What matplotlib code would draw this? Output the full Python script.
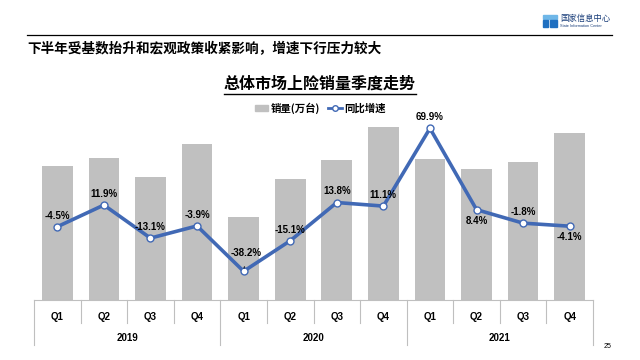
import matplotlib
matplotlib.use("Agg")
import matplotlib.pyplot as plt
from matplotlib.patches import Patch, Rectangle
from matplotlib.lines import Line2D
from matplotlib.transforms import blended_transform_factory

plt.rcParams['font.family'] = ['Liberation Sans', 'Noto Sans CJK SC', 'DejaVu Sans']
CJK = ['Noto Sans CJK SC', 'DejaVu Sans']

quarters = ["Q1", "Q2", "Q3", "Q4"] * 3
years = ["2019", "2020", "2021"]
sales = [517, 548, 475, 602, 321, 466, 539, 667, 544, 505, 531, 642]   # 万台
growth = [-4.5, 11.9, -13.1, -3.9, -38.2, -15.1, 13.8, 11.1, 69.9, 8.4, -1.8, -4.1]
label_pos = ["up", "up", "up", "up", "up2", "up", "up", "up", "up", "down", "up", "down"]

bar_c = "#C0C0C0"
line_c = "#4169B5"

fig = plt.figure(figsize=(6.4, 3.6), dpi=100)
W, H = 640, 360

def fx(x):
    return x / W

def fy(y):
    return 1 - y / H

ax = fig.add_axes([fx(34), fy(300), fx(559), 190 / H])
x = list(range(len(sales)))
ax.bar(x, sales, width=0.66, color=bar_c, zorder=1)
ax.set_xlim(-0.5, 11.5)
ax.set_ylim(0, 731.5)
ax.axis("off")

ax2 = ax.twinx()
ax2.set_ylim(-59.9, 83.75)
ax2.axis("off")
ax2.plot(x, growth, color=line_c, lw=2.6, marker="o", ms=5,
         mfc="white", mec=line_c, mew=1.0, zorder=3)

for i, (g, p) in enumerate(zip(growth, label_pos)):
    txt = f"{g:.1f}%"
    if p == "up":
        ax2.annotate(txt, (i, g), xytext=(0, 8), textcoords="offset points",
                     ha="center", va="center", fontsize=7, fontweight="bold")
    elif p == "up2":
        ax2.annotate(txt, (i, g), xytext=(2, 13), textcoords="offset points",
                     ha="center", va="center", fontsize=7, fontweight="bold",
                     arrowprops=dict(arrowstyle="-", lw=0.6, color="black",
                                     shrinkA=4, shrinkB=2))
    else:
        ax2.annotate(txt, (i, g), xytext=(0, -8), textcoords="offset points",
                     ha="center", va="center", fontsize=7, fontweight="bold")

# category axis below bars
tr = blended_transform_factory(ax.transData, fig.transFigure)
axis_c = "#BFBFBF"
fig.add_artist(Line2D([-0.5, 11.5], [fy(300), fy(300)], transform=tr, color=axis_c, lw=0.8))
for b in range(13):
    xb = b - 0.5
    bottom = 345 if b % 4 == 0 else 323
    fig.add_artist(Line2D([xb, xb], [fy(300), fy(bottom)], transform=tr, color=axis_c, lw=0.8))
for i, q in enumerate(quarters):
    fig.text(i, fy(317.5), q, transform=tr, ha="center", va="center",
             fontsize=7, fontweight="bold")
for k, yr in enumerate(years):
    fig.text(4 * k + 1.5, fy(338), yr, transform=tr, ha="center", va="center",
             fontsize=7, fontweight="bold")

# header
fig.add_artist(Line2D([fx(27), fx(612)], [fy(35), fy(35)], color="black", lw=0.9))
fig.text(fx(27), fy(49), "下半年受基数抬升和宏观政策收紧影响，增速下行压力较大",
         family=CJK, fontsize=9.8, fontweight="bold", ha="left", va="center")

# logo
fig.add_artist(Rectangle((fx(543), fy(19)), fx(14), 4 / H, color="#6FB7E8", transform=fig.transFigure))
fig.add_artist(Rectangle((fx(543), fy(27)), fx(5), 7 / H, color="#1F6FC0", transform=fig.transFigure))
fig.add_artist(Rectangle((fx(550), fy(27)), fx(7), 7 / H, color="#1F6FC0", transform=fig.transFigure))
fig.text(fx(560), fy(18), "国家信息中心", family=CJK, fontsize=6, ha="left", va="center",
         color="#1A3E7A")
fig.text(fx(560), fy(26), "State Information Center", fontsize=2.8, ha="left", va="center",
         color="#1A3E7A")

# chart title with underline
title = fig.text(0.5, fy(84), "总体市场上险销量季度走势", family=CJK, fontsize=11.5,
                 fontweight="bold", ha="center", va="center")
fig.canvas.draw()
bb = title.get_window_extent().transformed(fig.transFigure.inverted())
fig.add_artist(Line2D([bb.x0, bb.x1], [fy(93.5), fy(93.5)], color="black", lw=1.0))

# legend
handles = [Patch(color=bar_c),
           Line2D([], [], color=line_c, lw=2, marker="o", ms=4, mfc="white", mec=line_c)]
fig.legend(handles, ["销量(万台)", "同比增速"], loc="center", bbox_to_anchor=(0.5, fy(108)),
           ncol=2, frameon=False, handlelength=1.3, handleheight=0.5, handletextpad=0.2,
           columnspacing=0.8, prop=dict(family=CJK, size=7.5, weight="bold"))

fig.text(fx(608), fy(347), "25", fontsize=5, ha="center", va="center")

fig.savefig("out.png", dpi=100, facecolor="white")
